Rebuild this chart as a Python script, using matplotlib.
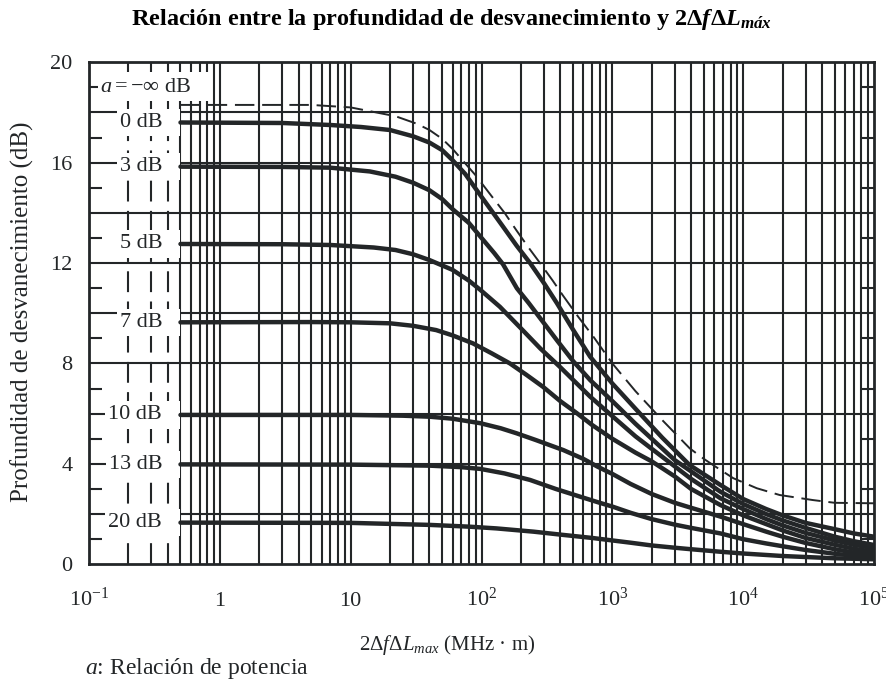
import matplotlib
matplotlib.use('Agg')
import matplotlib.pyplot as plt
from matplotlib.patches import Rectangle
from matplotlib.ticker import NullLocator

plt.rcParams['font.family'] = ['Liberation Serif', 'DejaVu Serif']
plt.rcParams['mathtext.fontset'] = 'custom'
plt.rcParams['mathtext.rm'] = 'Liberation Serif'
plt.rcParams['mathtext.it'] = 'Liberation Serif:italic'
plt.rcParams['mathtext.bf'] = 'Liberation Serif:bold'
plt.rcParams['mathtext.bfit'] = 'Liberation Serif:bold:italic'

INK = '#232628'

# a = -inf dB (dashed)
x_inf = [0.5, 5, 10, 14, 22, 32, 40, 50, 60, 70, 90, 120, 150, 185, 230, 280, 350, 420,
         550, 720, 1000, 1500, 2400, 3900, 5000, 6700, 8400, 12700, 19000, 34000, 50000, 100000]
y_inf = [18.3, 18.3, 18.2, 18.05, 17.85, 17.55, 17.3, 16.95, 16.55, 16.15, 15.5, 14.65, 14.0,
         13.3, 12.6, 12.0, 11.3, 10.7, 9.85, 9.05, 8.0, 6.9, 5.75, 4.62, 4.2, 3.76, 3.43, 3.03,
         2.76, 2.56, 2.45, 2.43]

curve_labels = ['0 dB', '3 dB', '5 dB', '7 dB', '10 dB', '13 dB', '20 dB']

x_0db = [0.5, 3, 7, 12, 20, 30, 40, 50, 60, 75, 92, 115, 146, 185, 235, 300, 377, 500, 676,
         1000, 1500, 2400, 3900, 6700, 10000, 15000, 20000, 30000, 50000, 70000, 100000]
y_0db = [17.6, 17.58, 17.5, 17.42, 17.3, 17.05, 16.8, 16.5, 16.1, 15.55, 14.9, 14.2, 13.45,
         12.7, 12.0, 11.2, 10.4, 9.35, 8.27, 7.2, 6.2, 5.05, 3.95, 3.16, 2.6, 2.2, 1.95, 1.65,
         1.4, 1.23, 1.1]

x_3db = [0.5, 3, 7, 14, 22, 30, 40, 50, 60, 80, 100, 125, 146, 186, 230, 281, 380, 500, 676,
         1000, 1500, 2000, 3000, 4000, 6700, 10000, 15000, 20000, 30000, 50000, 70000, 100000]
y_3db = [15.84, 15.83, 15.8, 15.65, 15.44, 15.2, 14.9, 14.55, 14.15, 13.6, 13.0, 12.4, 11.95,
         11.0, 10.4, 9.8, 8.9, 8.1, 7.34, 6.5, 5.6, 5.0, 4.15, 3.7, 2.89, 2.4, 2.0, 1.75, 1.45,
         1.1, 0.92, 0.77]

x_5db = [0.5, 3, 7, 15, 22, 30, 40, 60, 80, 98, 138, 200, 281, 400, 500, 676, 1000, 1500,
         2000, 3000, 4000, 6700, 10000, 15000, 20000, 30000, 50000, 70000, 100000]
y_5db = [12.76, 12.75, 12.72, 12.62, 12.52, 12.35, 12.12, 11.73, 11.3, 10.93, 10.26, 9.4,
         8.6, 7.85, 7.35, 6.68, 5.9, 5.1, 4.6, 3.9, 3.4, 2.63, 2.2, 1.8, 1.55, 1.25, 0.95,
         0.78, 0.64]

x_7db = [0.5, 5, 10, 20, 30, 45, 60, 86, 120, 165, 220, 295, 400, 535, 700, 1000, 1500,
         2000, 3000, 4000, 6700, 10000, 15000, 20000, 30000, 50000, 70000, 100000]
y_7db = [9.64, 9.65, 9.64, 9.6, 9.5, 9.33, 9.12, 8.8, 8.4, 8.0, 7.55, 7.07, 6.5, 6.02, 5.55,
         5.0, 4.45, 4.1, 3.5, 3.0, 2.36, 1.95, 1.6, 1.35, 1.05, 0.78, 0.62, 0.5]

x_10db = [0.5, 10, 25, 40, 60, 98, 140, 185, 260, 422, 600, 770, 1000, 1380, 2000, 3000,
          4000, 6700, 10000, 15000, 20000, 30000, 50000, 70000, 100000]
y_10db = [5.95, 5.95, 5.92, 5.88, 5.8, 5.62, 5.42, 5.22, 4.95, 4.55, 4.2, 3.89, 3.6, 3.2,
          2.8, 2.45, 2.25, 1.9, 1.6, 1.3, 1.1, 0.85, 0.6, 0.47, 0.37]

x_13db = [0.5, 10, 40, 70, 98, 150, 235, 370, 570, 800, 1000, 1380, 2000, 3000, 4000, 6700,
          10000, 15000, 20000, 30000, 50000, 70000, 100000]
y_13db = [3.98, 3.97, 3.93, 3.87, 3.8, 3.62, 3.36, 3.0, 2.69, 2.45, 2.3, 2.05, 1.8, 1.58,
          1.45, 1.23, 1.0, 0.83, 0.72, 0.57, 0.42, 0.34, 0.28]

x_20db = [0.5, 10, 40, 80, 130, 250, 422, 700, 1000, 1380, 2000, 3000, 4000, 6700, 10000,
          20000, 50000, 100000]
y_20db = [1.66, 1.65, 1.57, 1.5, 1.43, 1.3, 1.17, 1.05, 0.95, 0.86, 0.75, 0.66, 0.6, 0.5,
          0.43, 0.33, 0.24, 0.2]

curves = [(x_0db, y_0db), (x_3db, y_3db), (x_5db, y_5db), (x_7db, y_7db),
          (x_10db, y_10db), (x_13db, y_13db), (x_20db, y_20db)]

x_ticks = [0.1, 1, 10, 100, 1e3, 1e4, 1e5]
x_tick_labels = [r'$\mathregular{10^{-1}}$', '1', '10', r'$\mathregular{10^{2}}$',
                 r'$\mathregular{10^{3}}$', r'$\mathregular{10^{4}}$', r'$\mathregular{10^{5}}$']
y_ticks = [0, 4, 8, 12, 16, 20]

fig = plt.figure(figsize=(8.86, 6.84), dpi=100)
ax = fig.add_axes([0.1005, 0.175, 0.886, 0.734])
ax.set_xscale('log')
ax.set_xlim(0.1, 1e5)
ax.set_ylim(0, 20)

# grid, dashed where there is no data (x < 0.5)
for e in range(-1, 5):
    for m in range(1, 10):
        v = m * 10.0 ** e
        if v <= 0.1:
            continue
        if v < 0.5:
            ax.axvline(v, color=INK, lw=1.5, ls=(0, (10, 4.5)), zorder=1)
        else:
            ax.axvline(v, color=INK, lw=1.5, zorder=1)
for v in range(2, 20, 2):
    ax.axhline(v, color=INK, lw=1.5, zorder=1)

ax.set_yticks(y_ticks)
ax.set_yticks(range(1, 20, 2), minor=True)
ax.tick_params(axis='y', which='major', length=0, pad=12, labelsize=16, colors=INK)
ax.tick_params(axis='y', which='minor', direction='in', length=9.5, width=1.5,
               left=True, right=True, color=INK)
ax.set_xticks(x_ticks)
ax.set_xticklabels(x_tick_labels)
ax.xaxis.set_minor_locator(NullLocator())
ax.tick_params(axis='x', length=0, pad=30, labelsize=16, colors=INK)
for lbl in ax.get_xticklabels():
    lbl.set_va('baseline')

for s in ax.spines.values():
    s.set_linewidth(2)
    s.set_color(INK)
    s.set_zorder(5)

# curve labels on white patches
texts = []
for lab, (x, y) in zip(curve_labels, curves):
    t = ax.text(0.362, y[0], lab, ha='right', va='center', fontsize=16, color=INK, zorder=3)
    texts.append((t, y[0]))
t_inf = ax.text(0.121, 19.0, r'$a = -\infty$ dB', ha='left', va='center', fontsize=16,
                color=INK, zorder=3)

fig.canvas.draw()
r = fig.canvas.get_renderer()
inv = ax.transData.inverted()
for t, yc in texts:
    bb = t.get_window_extent(r)
    x0 = inv.transform((bb.x0 - 3, bb.y0))[0]
    ax.add_patch(Rectangle((x0, yc - 0.55), 0.5 - x0, 1.1, facecolor='white',
                           edgecolor='none', zorder=2))
bb = t_inf.get_window_extent(r)
x0 = inv.transform((bb.x0 - 2, bb.y0))[0]
ax.add_patch(Rectangle((x0, 18.45), 0.85 - x0, 1.15, facecolor='white',
                       edgecolor='none', zorder=2))

for x, y in curves:
    ax.plot(x, y, color=INK, lw=3.2, solid_capstyle='round', solid_joinstyle='round', zorder=4)
ax.plot(x_inf, y_inf, color=INK, lw=1.4, dashes=(10, 4), zorder=4)

fig.text(0.51, 0.972,
         r'Relación entre la profundidad de desvanecimiento y $\mathbf{2\Delta}\mathbfit{f}\mathbf{\Delta}\mathbfit{L}_{\mathbfit{máx}}$',
         ha='center', va='center', fontsize=17.5, fontweight='bold', color='black')
fig.text(0.505, 0.057, r'2$\Delta f\Delta L_{max}$ (MHz · m)', ha='center', va='center',
         fontsize=15, color=INK)
fig.text(0.025, 0.544, 'Profundidad de desvanecimiento (dB)', rotation=90,
         ha='center', va='center', fontsize=18, color=INK)
fig.text(0.096, 0.023, r'$a$: Relación de potencia', ha='left', va='center',
         fontsize=17, color=INK)

fig.savefig('out.png', dpi=100)
